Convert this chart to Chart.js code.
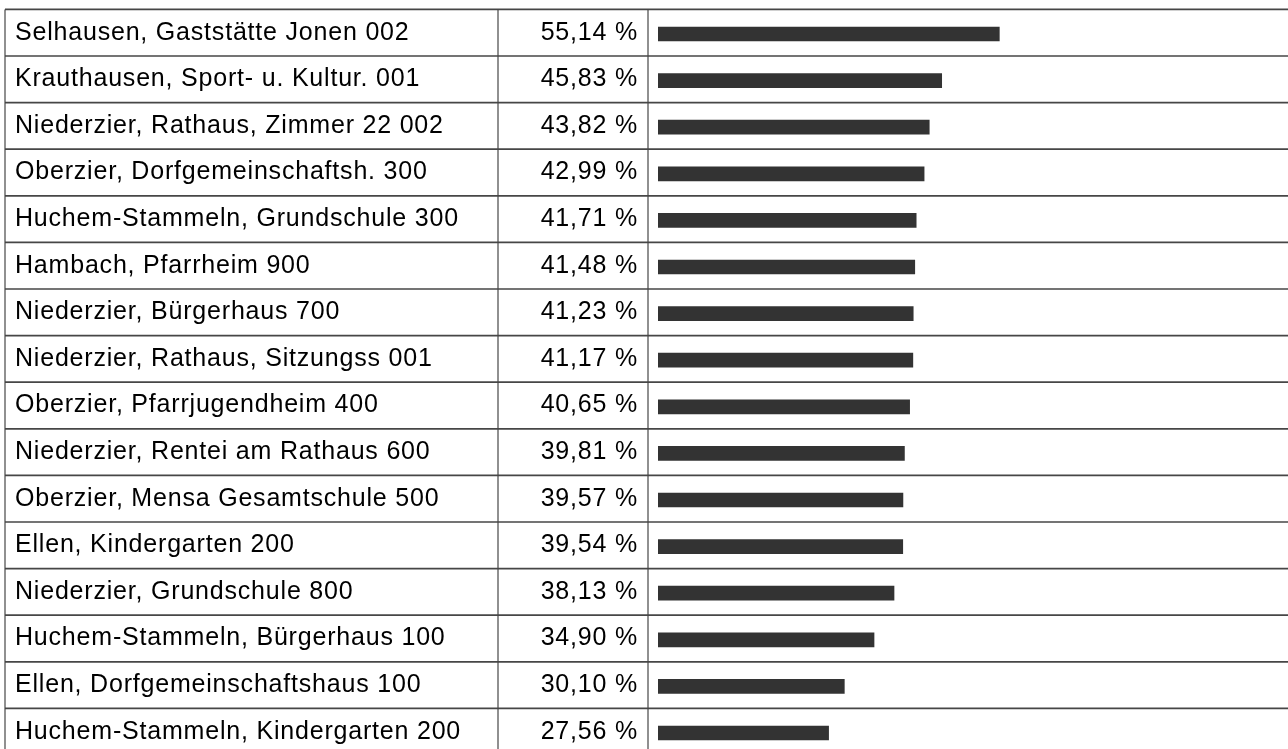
<!DOCTYPE html>
<html lang="de">
<head>
<meta charset="utf-8">
<title>Wahlbeteiligung nach Stimmbezirk</title>
<script src="https://cdn.jsdelivr.net/npm/chart.js@4.4.1/dist/chart.umd.min.js"></script>
<style>
  html, body { margin: 0; padding: 0; background: #fff; overflow: hidden; }
  #turnoutChart { display: block; }
</style>
</head>
<body>
<canvas id="turnoutChart" width="1288" height="760"></canvas>
<script>
// Stimmbezirke, sortiert nach Wahlbeteiligung
const districts = [
  'Selhausen, Gaststätte Jonen 002',
  'Krauthausen, Sport- u. Kultur. 001',
  'Niederzier, Rathaus, Zimmer 22 002',
  'Oberzier, Dorfgemeinschaftsh. 300',
  'Huchem-Stammeln, Grundschule 300',
  'Hambach, Pfarrheim 900',
  'Niederzier, Bürgerhaus 700',
  'Niederzier, Rathaus, Sitzungss 001',
  'Oberzier, Pfarrjugendheim 400',
  'Niederzier, Rentei am Rathaus 600',
  'Oberzier, Mensa Gesamtschule 500',
  'Ellen, Kindergarten 200',
  'Niederzier, Grundschule 800',
  'Huchem-Stammeln, Bürgerhaus 100',
  'Ellen, Dorfgemeinschaftshaus 100',
  'Huchem-Stammeln, Kindergarten 200'
];
const turnout = [55.14, 45.83, 43.82, 42.99, 41.71, 41.48, 41.23, 41.17, 40.65, 39.81, 39.57, 39.54, 38.13, 34.90, 30.10, 27.56];

const FONT = '25px "Liberation Sans", Arial, sans-serif';
const LINE_COLOR = '#464646';
const TABLE_LEFT = 5;
const COL_VALUE = 498;
const COL_BAR = 648;

function formatPercent(v) {
  return v.toFixed(2).replace('.', ',') + ' %';
}

// draws the table grid plus the name and percent columns next to the bars
const tablePlugin = {
  id: 'tableColumns',
  beforeDatasetsDraw(chart) {
    const ctx = chart.ctx;
    const yScale = chart.scales.y;
    const rowH = (yScale.bottom - yScale.top) / districts.length;
    const shift = -1.3;
    const right = chart.width;
    const top = yScale.top + shift;
    const bottom = yScale.bottom + shift;

    ctx.save();
    ctx.strokeStyle = LINE_COLOR;
    ctx.lineWidth = 1.7;
    for (let i = 0; i <= districts.length; i++) {
      const y = yScale.getPixelForValue(i) - rowH / 2 + shift;
      ctx.beginPath();
      ctx.moveTo(TABLE_LEFT, y);
      ctx.lineTo(right, y);
      ctx.stroke();
    }
    ctx.lineWidth = 1.2;
    [TABLE_LEFT, COL_VALUE, COL_BAR].forEach(function (x) {
      ctx.beginPath();
      ctx.moveTo(x, top);
      ctx.lineTo(x, bottom);
      ctx.stroke();
    });

    ctx.fillStyle = '#000';
    ctx.font = FONT;
    ctx.letterSpacing = '0.8px';
    ctx.textBaseline = 'alphabetic';
    districts.forEach(function (name, i) {
      const y = yScale.getPixelForValue(i) + 5.5;
      ctx.textAlign = 'left';
      ctx.fillText(name, 15, y);
      ctx.textAlign = 'right';
      ctx.fillText(formatPercent(turnout[i]), 638, y);
    });
    ctx.restore();
  }
};

const ctx = document.getElementById('turnoutChart').getContext('2d');
new Chart(ctx, {
  type: 'bar',
  data: {
    labels: districts,
    datasets: [{
      label: 'Wahlbeteiligung',
      data: turnout,
      backgroundColor: '#333333',
      borderWidth: 0,
      barThickness: 14
    }]
  },
  plugins: [tablePlugin],
  options: {
    indexAxis: 'y',
    responsive: false,
    animation: false,
    devicePixelRatio: 1,
    layout: {
      padding: { left: 658, right: 11, top: 10.7, bottom: 3.7 }
    },
    plugins: {
      legend: { display: false },
      tooltip: { enabled: false },
      title: { display: false }
    },
    scales: {
      x: { display: false, min: 0, max: 100 },
      y: { display: false }
    }
  }
});
</script>
</body>
</html>
